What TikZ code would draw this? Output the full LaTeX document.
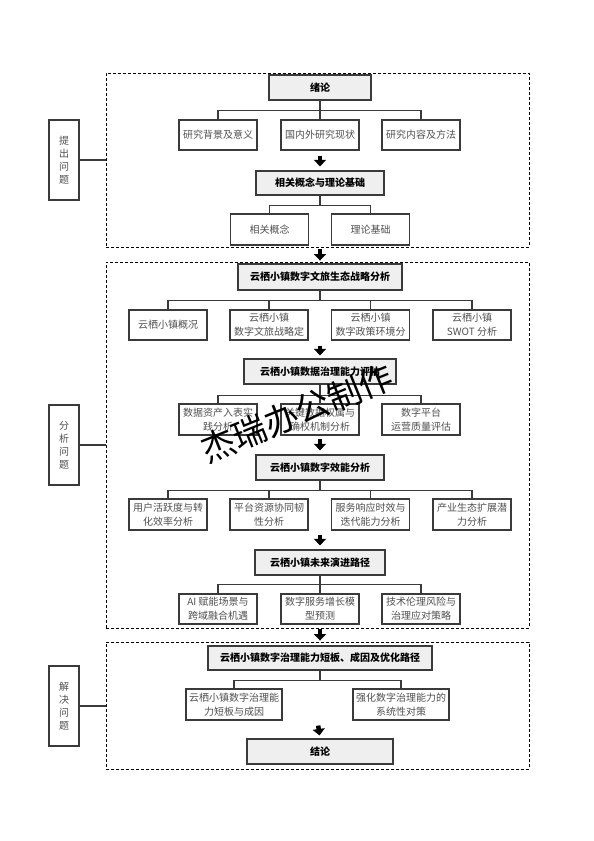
\documentclass[tikz,border=0pt]{standalone}
\usepackage{fontspec}
\setmainfont{Noto Sans CJK SC}
\usetikzlibrary{arrows.meta,calc}
\definecolor{bordergray}{HTML}{3A3A3A}
\definecolor{txtgray}{HTML}{505050}
\definecolor{headfill}{HTML}{EFEFEF}
\begin{document}
\begin{tikzpicture}[x=1pt,y=-1pt,
  box/.style={draw=bordergray, line width=1.2pt, fill=white, text=txtgray,
    font=\fontsize{10}{14}\selectfont, align=center, inner sep=0pt,
    minimum width=78pt, minimum height=31pt},
  head/.style={draw=bordergray, line width=1.2pt, fill=headfill, text=black,
    font=\fontsize{10}{13}\selectfont\bfseries, inner sep=0pt, minimum height=25pt},
  side/.style={draw=bordergray, line width=1.2pt, fill=white, text=txtgray,
    font=\fontsize{10}{13}\selectfont, align=center, inner sep=0pt,
    minimum width=30pt, minimum height=80pt},
  dbox/.style={draw=black, line width=0.9pt, dash pattern=on 3pt off 2pt, inner sep=0pt,
    minimum width=423pt},
  conn/.style={draw=bordergray, line width=1.1pt},
  bigarrow/.style={draw=black, line width=4.5pt, -{Triangle[width=12pt,length=6.5pt]}}
]
\useasboundingbox (0,0) rectangle (594,841);

% dashed frames
\node[dbox, minimum height=174pt] (B1) at (317.5,160) {};
\node[dbox, minimum height=366pt] (B2) at (317.5,445) {};
\node[dbox, minimum height=127pt] (B3) at (317.5,705.5) {};

% side labels
\node[side] (L1) at (64,160) {提\\出\\问\\题};
\node[side] (L2) at (64,445) {分\\析\\问\\题};
\node[side] (L3) at (64,706) {解\\决\\问\\题};
\draw[conn] (L1.east) -- (B1.west |- L1.east);
\draw[conn] (L2.east) -- (B2.west |- L2.east);
\draw[conn] (L3.east) -- (B3.west |- L3.east);

% ---- part 1
\node[head, minimum width=102pt] (H1) at (320,87.5) {绪论};
\node[box, minimum height=30pt] (A1) at (218,135) {研究背景及意义};
\node[box, minimum height=30pt] (A2) at (320,135) {国内外研究现状};
\node[box, minimum height=30pt] (A3) at (421,135) {研究内容及方法};
\foreach \c in {A1,A2,A3} \draw[conn] (H1.south) -- ++(0,10) -| (\c.north);
\node[head, minimum width=128pt, minimum height=24pt] (H2) at (320,183) {相关概念与理论基础};
\draw[bigarrow, shorten <=5pt, shorten >=4pt] (A2.south) -- (H2.north);
\node[box] (C1) at (269.5,229.5) {相关概念};
\node[box] (C2) at (370.5,229.5) {理论基础};
\foreach \c in {C1,C2} \draw[conn] (H2.south) -- ++(0,9.5) -| (\c.north);

\draw[bigarrow, shorten <=2pt, shorten >=1pt] (B1.south -| H2.south) -- (B2.north -| H2.south);

% ---- part 2
\node[head, minimum width=164pt, minimum height=26pt] (H3) at (320,277) {云栖小镇数字文旅生态战略分析};
\node[box, minimum height=30pt] (D1) at (168,325) {云栖小镇概况};
\node[box, minimum height=30pt] (D2) at (269,325) {云栖小镇\\数字文旅战略定};
\node[box, minimum height=30pt] (D3) at (370.5,325) {云栖小镇\\数字政策环境分};
\node[box, minimum height=30pt] (D4) at (472,325) {云栖小镇\\SWOT 分析};
\foreach \c in {D1,D2,D3,D4} \draw[conn] (H3.south) -- ++(0,10) -| (\c.north);

\node[head, minimum width=152pt] (H4) at (320,371.5) {云栖小镇数据治理能力评估};
\draw[bigarrow, shorten <=5pt, shorten >=3pt] (D2.south -| H4.north) -- (H4.north);
\node[box] (E1) at (218,419.5) {数据资产入表实\\践分析};
\node[box] (E2) at (320,419.5) {关键数据权属与\\确权机制分析};
\node[box] (E3) at (421,419.5) {数字平台\\运营质量评估};
\foreach \c in {E1,E2,E3} \draw[conn] (H4.south) -- ++(0,10.5) -| (\c.north);

\node[head, minimum width=128pt] (H5) at (320,467.5) {云栖小镇数字效能分析};
\draw[bigarrow, shorten <=3pt, shorten >=4pt] (E2.south) -- (H5.north);
\node[box] (F1) at (168,514.5) {用户活跃度与转\\化效率分析};
\node[box] (F2) at (269,514.5) {平台资源协同韧\\性分析};
\node[box] (F3) at (370.5,514.5) {服务响应时效与\\迭代能力分析};
\node[box] (F4) at (472,514.5) {产业生态扩展潜\\力分析};
\foreach \c in {F1,F2,F3,F4} \draw[conn] (H5.south) -- ++(0,10) -| (\c.north);

\node[head, minimum width=130pt] (H6) at (320,562.5) {云栖小镇未来演进路径};
\draw[bigarrow, shorten <=4pt, shorten >=4pt] (F2.south -| H6.north) -- (H6.north);
\node[box, minimum height=30pt] (G1) at (218,609) {AI 赋能场景与\\跨域融合机遇};
\node[box, minimum height=30pt] (G2) at (320,609) {数字服务增长模\\型预测};
\node[box, minimum height=30pt] (G3) at (421,609) {技术伦理风险与\\治理应对策略};
\foreach \c in {G1,G2,G3} \draw[conn] (H6.south) -- ++(0,9) -| (\c.north);

\draw[bigarrow, shorten <=1pt, shorten >=1pt] (B2.south -| H6.south) -- (B3.north -| H6.south);

% ---- part 3
\node[head, minimum width=224pt, minimum height=24pt] (H7) at (320,658) {云栖小镇数字治理能力短板、成因及优化路径};
\node[box, minimum width=96pt] (K1) at (234,704.5) {云栖小镇数字治理能\\力短板与成因};
\node[box, minimum width=96pt] (K2) at (401,704.5) {强化数字治理能力的\\系统性对策};
\foreach \c in {K1,K2} \draw[conn] (H7.south) -- ++(0,9.5) -| (\c.north);
\node[head, minimum width=146pt] (H8) at (320,751.5) {结论};
\draw[bigarrow, shorten <=5pt, shorten >=3pt] ($(K1.south)!0.5!(K2.south)$) -- (H8.north);

% watermark
\node[rotate=22, font=\fontsize{34}{34}\selectfont, text=black, inner sep=0pt] (WM) at (297,413) {杰瑞办公制作};
\end{tikzpicture}
\end{document}
